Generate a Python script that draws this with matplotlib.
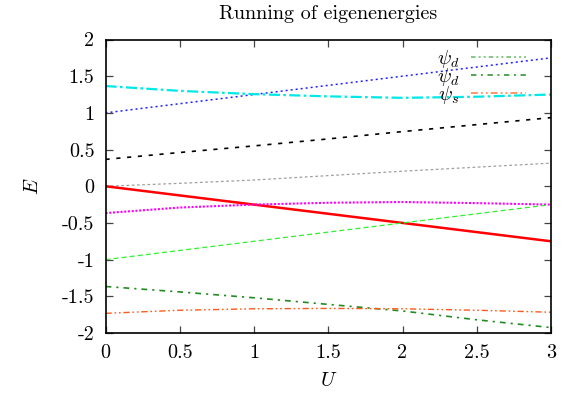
import matplotlib
matplotlib.use("Agg")
import matplotlib.pyplot as plt
from matplotlib.lines import Line2D

plt.rcParams['font.family'] = ['cmr10', 'DejaVu Serif']
plt.rcParams['mathtext.fontset'] = 'cm'
plt.rcParams['axes.unicode_minus'] = False

# coupling values and eigenenergies
U = [0, 0.5, 1, 1.5, 2, 2.5, 3]
e_blue = [1.0, 1.125, 1.25, 1.375, 1.5, 1.625, 1.75]
e_cyan = [1.366, 1.30, 1.255, 1.225, 1.205, 1.22, 1.25]
e_black = [0.366, 0.46, 0.55, 0.645, 0.745, 0.84, 0.935]
e_grey = [0.0, 0.04, 0.085, 0.145, 0.205, 0.26, 0.315]
e_red = [0.0, -0.125, -0.25, -0.375, -0.5, -0.625, -0.75]
e_magenta = [-0.366, -0.29, -0.25, -0.225, -0.215, -0.23, -0.25]
e_green = [-1.0, -0.875, -0.75, -0.625, -0.5, -0.375, -0.25]
e_dkgreen = [-1.366, -1.44, -1.52, -1.61, -1.70, -1.82, -1.926]
e_orange = [-1.732, -1.69, -1.67, -1.665, -1.67, -1.69, -1.717]

xticks = [0, 0.5, 1, 1.5, 2, 2.5, 3]
xticklabels = ['0', '0.5', '1', '1.5', '2', '2.5', '3']
yticks = [-2, -1.5, -1, -0.5, 0, 0.5, 1, 1.5, 2]
yticklabels = ['-2', '-1.5', '-1', '-0.5', '0', '0.5', '1', '1.5', '2']
legend_labels = [r'$\psi_d$', r'$\psi_d$', r'$\psi_s$']

fs = 14.5

fig = plt.figure(figsize=(5.72, 3.94), dpi=100)
fig.subplots_adjust(left=105.5/572, right=551/572, top=1-39.5/394, bottom=1-333/394)
ax = fig.add_subplot(111)

ax.plot(U, e_blue, color='#2020ff', lw=1.1, dashes=(1.3, 2.0))
ax.plot(U, e_cyan, color='#00e8e8', lw=1.6, dashes=(5, 1.5, 1.2, 1.5))
ax.plot(U, e_black, color='black', lw=1.2, dashes=(2.5, 4))
ax.plot(U, e_grey, color='#a0a0a0', lw=0.9, dashes=(2.2, 2))
ax.plot(U, e_red, color='#ff0000', lw=1.8)
ax.plot(U, e_magenta, color='#ff00ff', lw=1.5, dashes=(1, 0.8))
ax.plot(U, e_green, color='#30f030', lw=0.9, dashes=(4, 2.5))
ax.plot(U, e_dkgreen, color='#228b22', lw=1.2, dashes=(3.5, 3, 1.3, 3))
ax.plot(U, e_orange, color='#ff5a1a', lw=1.0, dashes=(4.5, 2, 1.2, 2, 1.2, 2))

handles = [
    Line2D([], [], color='#66b866', lw=1.1, dashes=(3, 2, 1.3, 2, 1.3, 2)),
    Line2D([], [], color='#228b22', lw=1.1, dashes=(3.5, 3, 1.3, 3)),
    Line2D([], [], color='#ff7a40', lw=1.1, dashes=(4.5, 2, 1.2, 2, 1.2, 2)),
]
ax.legend(handles, legend_labels, loc='upper right', frameon=False,
          markerfirst=False, fontsize=fs, handlelength=2.7,
          labelspacing=-0.2, borderaxespad=0.3, handletextpad=0.6,
          bbox_to_anchor=(0.975, 1.02))

ax.set_xlim(0, 3)
ax.set_ylim(-2, 2)
ax.set_xticks(xticks)
ax.set_xticklabels(xticklabels)
ax.set_yticks(yticks)
ax.set_yticklabels(yticklabels)
ax.tick_params(direction='in', length=5, width=0.9, color='#444444',
               top=True, right=True, labelsize=fs, pad=8)
for s in ax.spines.values():
    s.set_linewidth(1.2)

ax.set_title('Running of eigenenergies', fontsize=fs, pad=15)
ax.set_xlabel(r'$U$', fontsize=fs, labelpad=7)
ax.set_ylabel(r'$E$', fontsize=fs, labelpad=14)

fig.savefig('out.png', dpi=100)
